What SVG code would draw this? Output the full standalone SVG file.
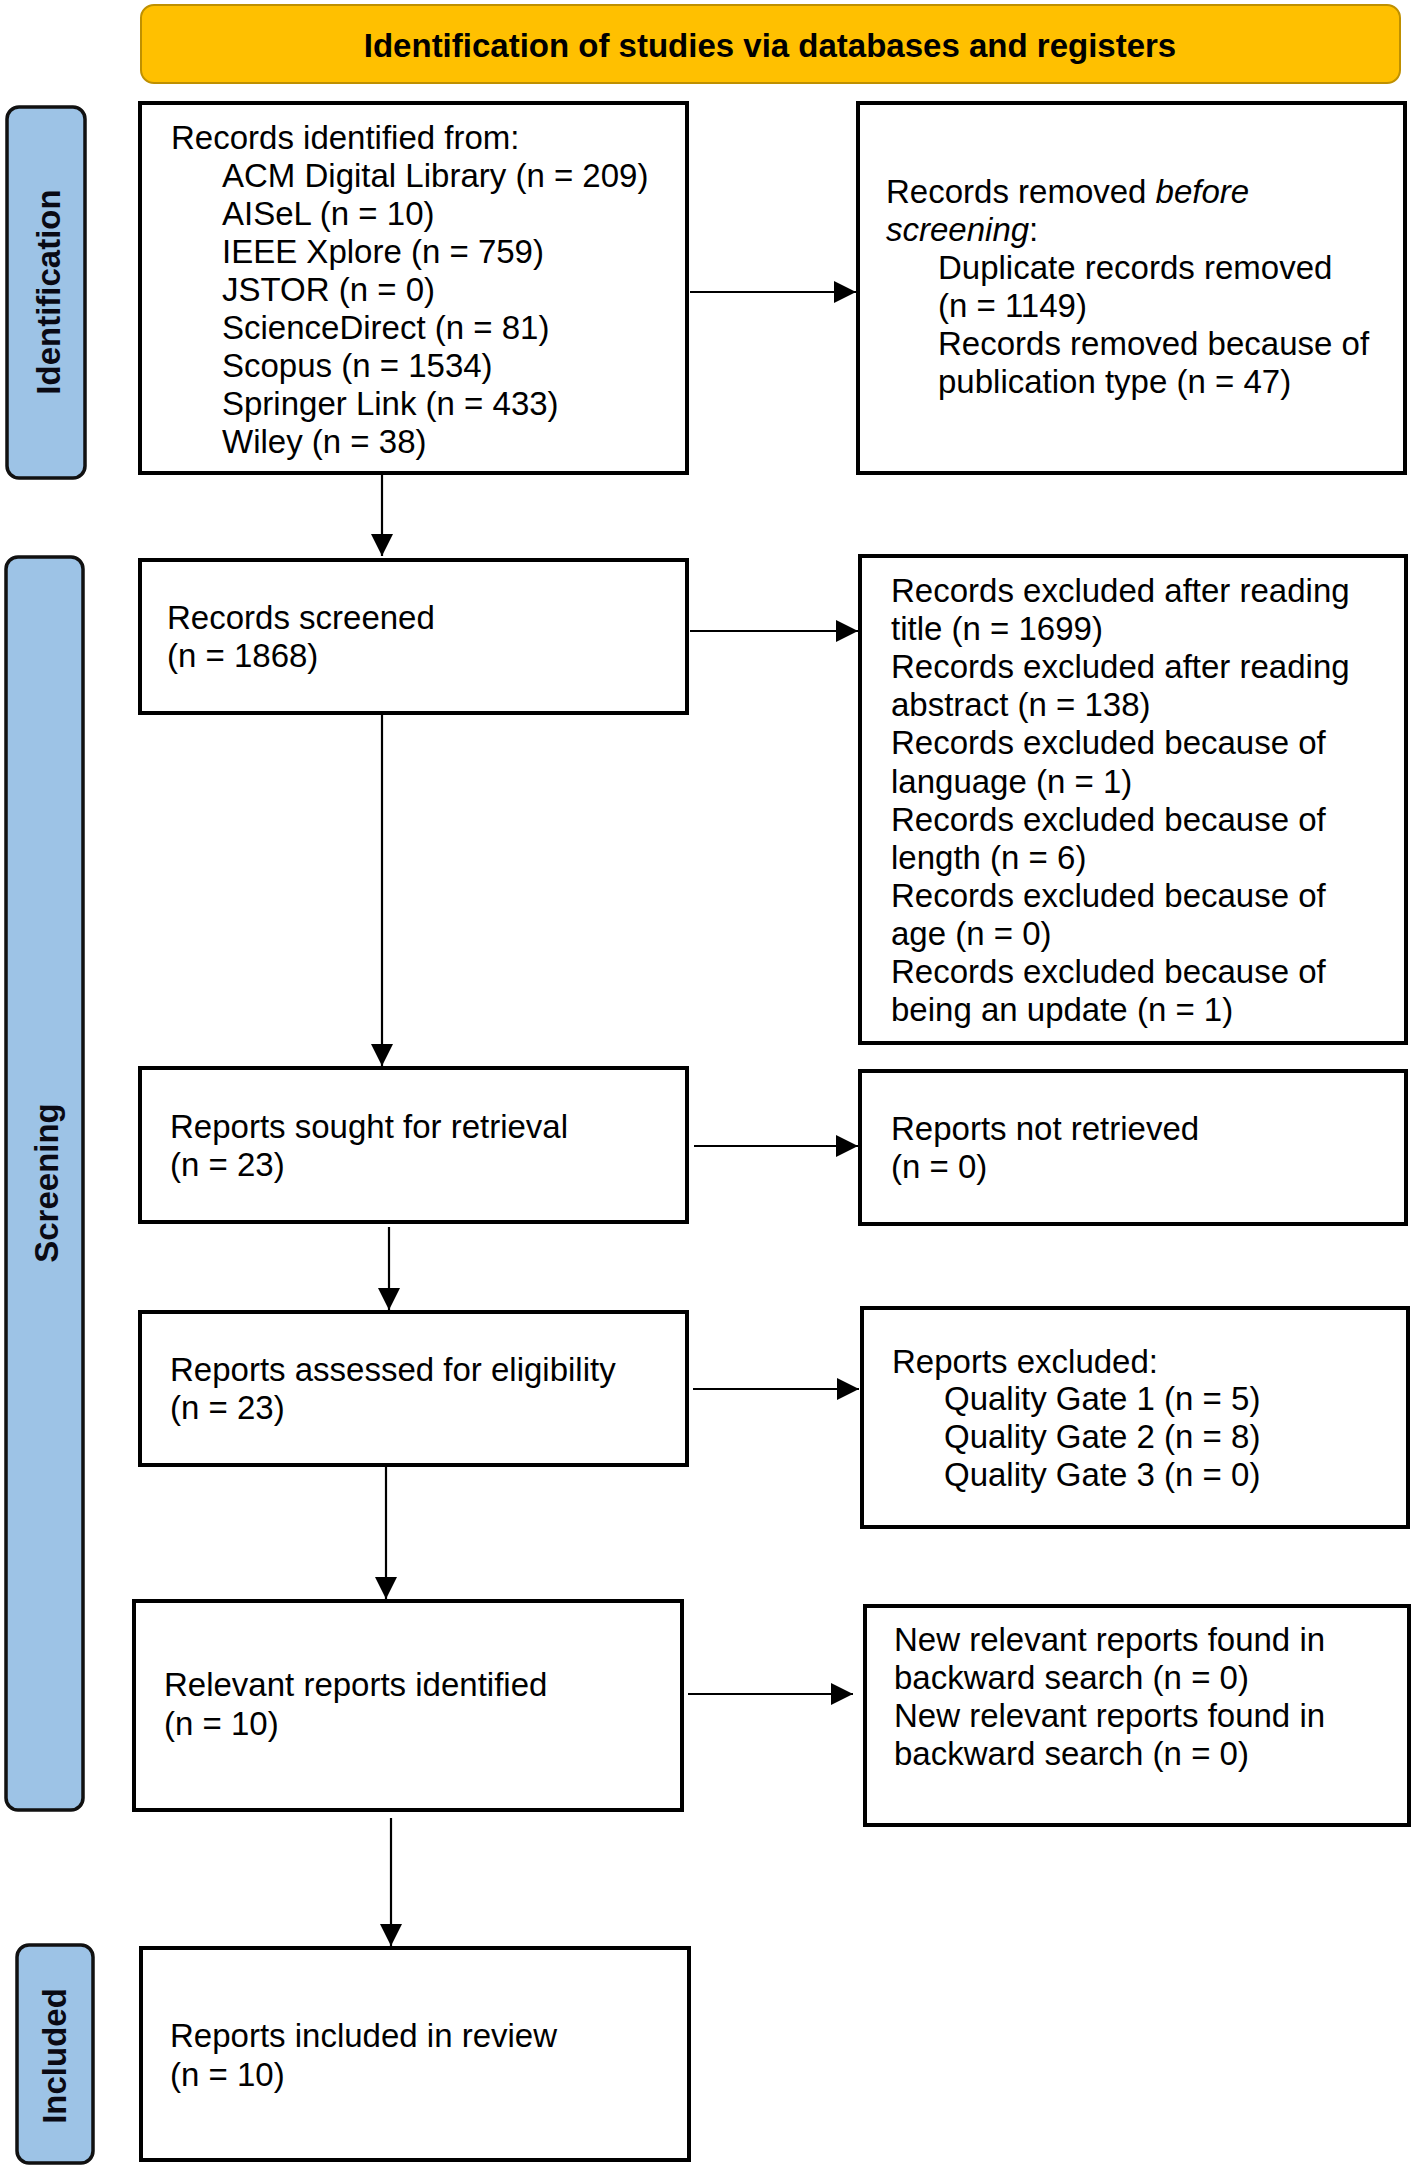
<svg xmlns="http://www.w3.org/2000/svg" width="1416" height="2170" viewBox="0 0 1416 2170">
<style>
.box{fill:#fff;stroke:#000;stroke-width:4}
.bar{fill:#9DC3E6;stroke:#111;stroke-width:3.5}
.t{font-family:"Liberation Sans",Arial,sans-serif;font-size:33px;fill:#000}
.lab{font-family:"Liberation Sans",Arial,sans-serif;font-size:33px;font-weight:bold;fill:#0a0a14;text-anchor:middle}
.title{font-family:"Liberation Sans",Arial,sans-serif;font-size:33px;font-weight:bold;fill:#000;text-anchor:middle}
.c{stroke:#000;stroke-width:2.2;fill:none}
</style>
<defs>
<marker id="ah" markerUnits="userSpaceOnUse" markerWidth="22" markerHeight="22" viewBox="0 0 22 22" refX="22" refY="11" orient="auto">
<path d="M0,0 L22,11 L0,22 Z" fill="#000"/>
</marker>
</defs>
<rect width="1416" height="2170" fill="#fff"/>

<g id="banner">
<rect x="141" y="5" width="1259" height="78" rx="13" fill="#FFC000" stroke="#BF9000" stroke-width="2"/>
<text class="title" x="770" y="57">Identification of studies via databases and registers</text>
</g>

<g id="phase-identification">
<rect class="bar" x="7" y="107" width="78" height="371" rx="12"/>
<text class="lab" transform="translate(60,292) rotate(-90)">Identification</text>
</g>
<g id="phase-screening">
<rect class="bar" x="6" y="557" width="77" height="1253" rx="12"/>
<text class="lab" transform="translate(58,1183) rotate(-90)">Screening</text>
</g>
<g id="phase-included">
<rect class="bar" x="17" y="1945" width="76" height="218" rx="12"/>
<text class="lab" transform="translate(66,2056) rotate(-90)">Included</text>
</g>

<g id="records-identified">
<rect class="box" x="140" y="103" width="547" height="370"/>
<text class="t" x="171" y="149">Records identified from:</text>
<text class="t" x="222" y="187">ACM Digital Library (n = 209)</text>
<text class="t" x="222" y="225">AISeL (n = 10)</text>
<text class="t" x="222" y="263">IEEE Xplore (n = 759)</text>
<text class="t" x="222" y="301">JSTOR (n = 0)</text>
<text class="t" x="222" y="339">ScienceDirect (n = 81)</text>
<text class="t" x="222" y="377">Scopus (n = 1534)</text>
<text class="t" x="222" y="415">Springer Link (n = 433)</text>
<text class="t" x="222" y="453">Wiley (n = 38)</text>
</g>

<g id="records-removed">
<rect class="box" x="858" y="103" width="547" height="370"/>
<text class="t" x="886" y="203">Records removed <tspan font-style="italic">before</tspan></text>
<text class="t" x="886" y="241"><tspan font-style="italic">screening</tspan>:</text>
<text class="t" x="938" y="279">Duplicate records removed</text>
<text class="t" x="938" y="317">(n = 1149)</text>
<text class="t" x="938" y="355">Records removed because of</text>
<text class="t" x="938" y="393">publication type (n = 47)</text>
</g>

<g id="records-screened">
<rect class="box" x="140" y="560" width="547" height="153"/>
<text class="t" x="167" y="629">Records screened</text>
<text class="t" x="167" y="667">(n = 1868)</text>
</g>

<g id="records-excluded">
<rect class="box" x="860" y="556" width="546" height="487"/>
<text class="t" x="891" y="602">Records excluded after reading</text>
<text class="t" x="891" y="640">title (n = 1699)</text>
<text class="t" x="891" y="678">Records excluded after reading</text>
<text class="t" x="891" y="716">abstract (n = 138)</text>
<text class="t" x="891" y="754">Records excluded because of</text>
<text class="t" x="891" y="793">language (n = 1)</text>
<text class="t" x="891" y="831">Records excluded because of</text>
<text class="t" x="891" y="869">length (n = 6)</text>
<text class="t" x="891" y="907">Records excluded because of</text>
<text class="t" x="891" y="945">age (n = 0)</text>
<text class="t" x="891" y="983">Records excluded because of</text>
<text class="t" x="891" y="1021">being an update (n = 1)</text>
</g>

<g id="reports-sought">
<rect class="box" x="140" y="1068" width="547" height="154"/>
<text class="t" x="170" y="1138">Reports sought for retrieval</text>
<text class="t" x="170" y="1176">(n = 23)</text>
</g>

<g id="reports-not-retrieved">
<rect class="box" x="860" y="1071" width="546" height="153"/>
<text class="t" x="891" y="1140">Reports not retrieved</text>
<text class="t" x="891" y="1178">(n = 0)</text>
</g>

<g id="reports-assessed">
<rect class="box" x="140" y="1312" width="547" height="153"/>
<text class="t" x="170" y="1381">Reports assessed for eligibility</text>
<text class="t" x="170" y="1419">(n = 23)</text>
</g>

<g id="reports-excluded">
<rect class="box" x="862" y="1308" width="546" height="219"/>
<text class="t" x="892" y="1373">Reports excluded:</text>
<text class="t" x="944" y="1410">Quality Gate 1 (n = 5)</text>
<text class="t" x="944" y="1448">Quality Gate 2 (n = 8)</text>
<text class="t" x="944" y="1486">Quality Gate 3 (n = 0)</text>
</g>

<g id="relevant-reports">
<rect class="box" x="134" y="1601" width="548" height="209"/>
<text class="t" x="164" y="1696">Relevant reports identified</text>
<text class="t" x="164" y="1735">(n = 10)</text>
</g>

<g id="new-relevant-reports">
<rect class="box" x="865" y="1606" width="544" height="219"/>
<text class="t" x="894" y="1651">New relevant reports found in</text>
<text class="t" x="894" y="1689">backward search (n = 0)</text>
<text class="t" x="894" y="1727">New relevant reports found in</text>
<text class="t" x="894" y="1765">backward search (n = 0)</text>
</g>

<g id="reports-included">
<rect class="box" x="141" y="1948" width="548" height="212"/>
<text class="t" x="170" y="2047">Reports included in review</text>
<text class="t" x="170" y="2086">(n = 10)</text>
</g>

<g id="connectors">
<line class="c" x1="690" y1="292" x2="856" y2="292" marker-end="url(#ah)"/>
<line class="c" x1="690" y1="631" x2="858" y2="631" marker-end="url(#ah)"/>
<line class="c" x1="694" y1="1146" x2="858" y2="1146" marker-end="url(#ah)"/>
<line class="c" x1="693" y1="1389" x2="859" y2="1389" marker-end="url(#ah)"/>
<line class="c" x1="688" y1="1694" x2="853" y2="1694" marker-end="url(#ah)"/>
<line class="c" x1="382" y1="475" x2="382" y2="556" marker-end="url(#ah)"/>
<line class="c" x1="382" y1="715" x2="382" y2="1066" marker-end="url(#ah)"/>
<line class="c" x1="389" y1="1227" x2="389" y2="1310" marker-end="url(#ah)"/>
<line class="c" x1="386" y1="1467" x2="386" y2="1599" marker-end="url(#ah)"/>
<line class="c" x1="391" y1="1818" x2="391" y2="1946" marker-end="url(#ah)"/>
</g>
</svg>
